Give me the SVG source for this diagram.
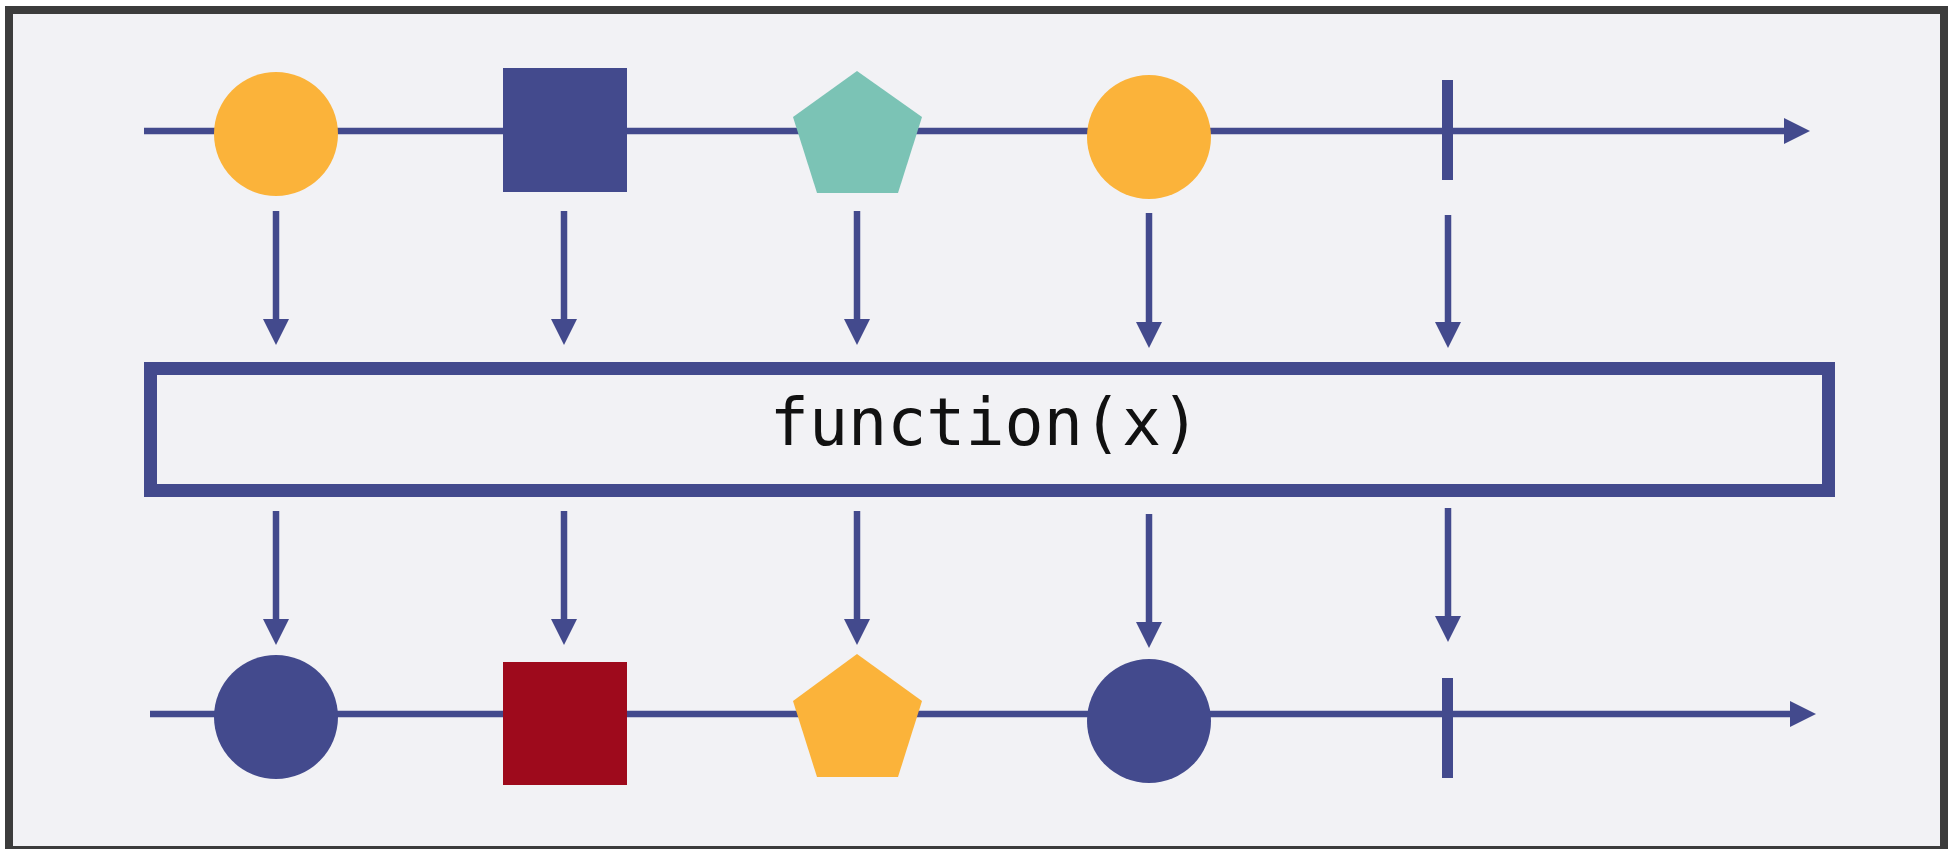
<svg xmlns="http://www.w3.org/2000/svg" width="1948" height="849" viewBox="0 0 1948 849">
<defs>
<style>
.ln{stroke:#434a8d;stroke-width:6.5;fill:none}
.blue{fill:#434a8d}
.orange{fill:#fbb33a}
.teal{fill:#7bc3b5}
.red{fill:#9e0a1c}
.lbl{font-family:"DejaVu Sans Mono","Liberation Mono",monospace;font-size:65px;fill:#111}
</style>
<marker id="ah" markerWidth="27" markerHeight="28" refX="2" refY="14" orient="auto" markerUnits="userSpaceOnUse">
<path d="M0,1 L26,14 L0,27 z" fill="#434a8d"/>
</marker>
</defs>
<rect x="0" y="0" width="1948" height="849" fill="#ffffff"/>
<rect x="5" y="6" width="1943" height="843" fill="#3c3c3c"/>
<rect x="13" y="14" width="1927" height="832" fill="#f2f2f5"/>

<g id="connectors">
<line class="ln" x1="144" y1="131" x2="1786" y2="131" marker-end="url(#ah)"/>
<line class="ln" x1="150" y1="714" x2="1792" y2="714" marker-end="url(#ah)"/>
<line class="ln" x1="276" y1="211" x2="276" y2="321" marker-end="url(#ah)"/>
<line class="ln" x1="564" y1="211" x2="564" y2="321" marker-end="url(#ah)"/>
<line class="ln" x1="857" y1="211" x2="857" y2="321" marker-end="url(#ah)"/>
<line class="ln" x1="1149" y1="213" x2="1149" y2="324" marker-end="url(#ah)"/>
<line class="ln" x1="1448" y1="215" x2="1448" y2="324" marker-end="url(#ah)"/>
<line class="ln" x1="276" y1="511" x2="276" y2="621" marker-end="url(#ah)"/>
<line class="ln" x1="564" y1="511" x2="564" y2="621" marker-end="url(#ah)"/>
<line class="ln" x1="857" y1="511" x2="857" y2="621" marker-end="url(#ah)"/>
<line class="ln" x1="1149" y1="514" x2="1149" y2="624" marker-end="url(#ah)"/>
<line class="ln" x1="1448" y1="508" x2="1448" y2="618" marker-end="url(#ah)"/>
</g>

<g id="in-circle-1"><circle class="orange" cx="276" cy="134" r="62"/></g>
<g id="in-square"><rect class="blue" x="503" y="68" width="124" height="124"/></g>
<g id="in-pentagon"><polygon class="teal" points="857,71 922,117 898,193 817,193 793,117"/></g>
<g id="in-circle-2"><circle class="orange" cx="1149" cy="137" r="62"/></g>
<g id="in-complete"><rect class="blue" x="1442" y="80" width="11" height="100"/></g>

<g id="function-box">
<rect x="150.5" y="368.5" width="1678" height="122" fill="none" stroke="#434a8d" stroke-width="13"/>
<text class="lbl" x="985" y="445" text-anchor="middle">function(x)</text>
</g>

<g id="out-circle-1"><circle class="blue" cx="276" cy="717" r="62"/></g>
<g id="out-square"><rect class="red" x="503" y="662" width="124" height="123"/></g>
<g id="out-pentagon"><polygon class="orange" points="857,654 922,701 898,777 817,777 793,701"/></g>
<g id="out-circle-2"><circle class="blue" cx="1149" cy="721" r="62"/></g>
<g id="out-complete"><rect class="blue" x="1442" y="678" width="11" height="100"/></g>
</svg>
